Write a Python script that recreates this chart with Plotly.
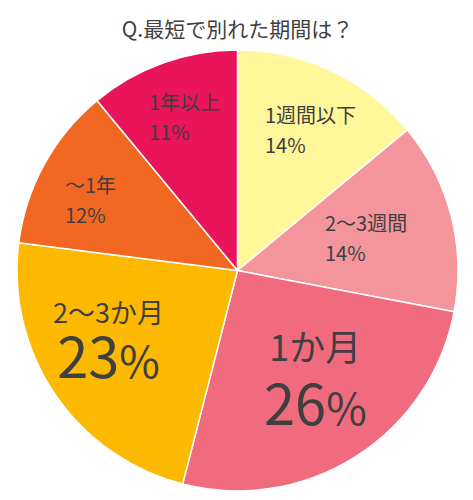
import numpy as np
import plotly.graph_objects as go

# データ
labels = ['1週間以下', '2〜3週間', '1か月', '2〜3か月', '〜1年', '1年以上']
values = [14, 14, 26, 23, 12, 11]
colors = ['#FFF799', '#F4959C', '#F06B7D', '#FDB900', '#F26722', '#EA145B']

TITLE = 'Q.最短で別れた期間は？'
FONT = 'Noto Sans CJK JP'
TEXT_COLOR = '#3f3f3f'

# ラベル位置（半径比・角度補正）と文字サイズ
label_r = [0.72, 0.60, 0.61, 0.67, 0.74, 0.74]
label_dang = [2, 0, -3, 5, -3, 1]
label_align = ['left', 'left', 'center', 'center', 'left', 'left']
name_size = [20, 20, 36, 27, 20, 20]
pct_size = [20, 20, 56, 56, 20, 20]
line_size = [23, 23, 49, 42, 23, 23]   # 行間用

W, H = 473, 500
# ページ本体の余白 8px を差し引いた値
ML, MR, MT, MB = 9, 23, 42, 17

fig = go.Figure(go.Pie(
    labels=labels,
    values=values,
    sort=False,
    direction='clockwise',
    rotation=0,
    marker=dict(colors=colors, line=dict(color='white', width=1.5)),
    textinfo='none',
    hoverinfo='label+percent',
    showlegend=False,
))

pw = W - ML - MR
ph = H - MT - MB
R = min(pw, ph) / 2
total = sum(values)
cum = np.cumsum([0] + values[:-1])
annotations = []
for i, (lab, v) in enumerate(zip(labels, values)):
    mid = (cum[i] + v / 2) / total * 2 * np.pi + np.radians(label_dang[i])
    dx = np.sin(mid) * R * label_r[i]
    dy = np.cos(mid) * R * label_r[i]
    p = round(v / total * 100)
    if pct_size[i] > 30:
        pct = (f"<span style='font-size:{pct_size[i]}px'>{p}</span>"
               f"<span style='font-size:{int(pct_size[i] * 0.8)}px'>%</span>")
    else:
        pct = f"<span style='font-size:{pct_size[i]}px'>{p}%</span>"
    txt = f"<span style='font-size:{name_size[i]}px'>{lab}</span><br>{pct}"
    annotations.append(dict(
        x=0.5 + dx / pw, y=0.5 + dy / ph, xref='paper', yref='paper',
        text=txt, showarrow=False, align=label_align[i],
        xanchor='center', yanchor='middle',
        font=dict(family=FONT, color=TEXT_COLOR, size=line_size[i]),
    ))

fig.update_layout(
    width=W, height=H,
    margin=dict(l=ML, r=MR, t=MT, b=MB),
    paper_bgcolor='white',
    plot_bgcolor='white',
    title=dict(text=TITLE, x=(ML + pw / 2) / W, xanchor='center', y=0.956, yanchor='middle',
               font=dict(family=FONT, size=21, color=TEXT_COLOR)),
    annotations=annotations,
)

fig.write_html("out.html")
